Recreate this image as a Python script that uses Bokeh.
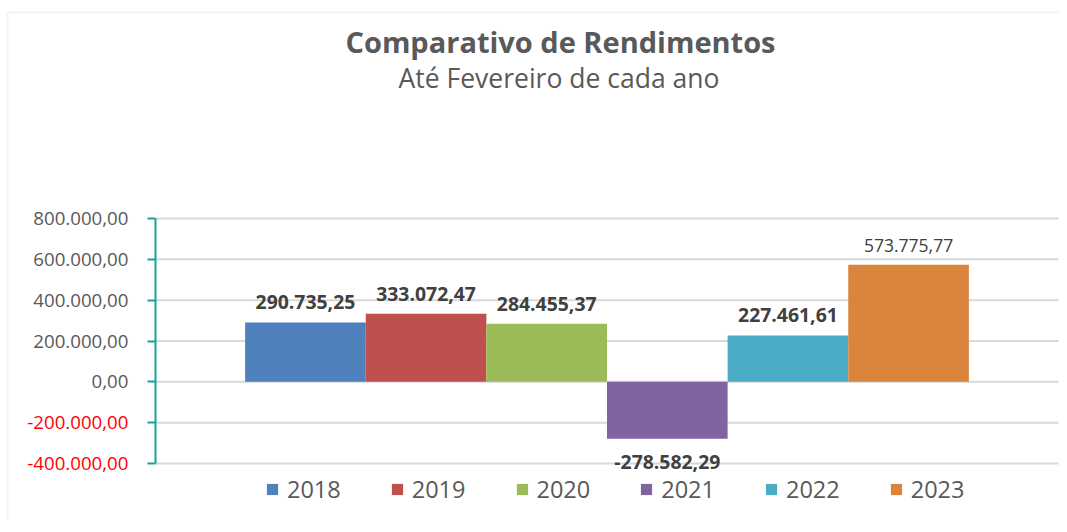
from bokeh.plotting import figure
from bokeh.models import (ColumnDataSource, Range1d, FixedTicker, LabelSet, Label,
                          Legend, LegendItem, BoxAnnotation)
from bokeh.core.properties import field, value
from bokeh.embed import file_html
from bokeh.resources import INLINE

# ---------------- data ----------------
years = ["2018", "2019", "2020", "2021", "2022", "2023"]
values = [290735.25, 333072.47, 284455.37, -278582.29, 227461.61, 573775.77]
y_ticks = [-400000, -200000, 0, 200000, 400000, 600000, 800000]
y_tick_labels = ["-400.000,00", "-200.000,00", "0,00", "200.000,00",
                 "400.000,00", "600.000,00", "800.000,00"]
title_text = "Comparativo de Rendimentos"
subtitle_text = "Até Fevereiro de cada ano"

# ---------------- styles ----------------
colors = ["#4F81BD", "#C0504D", "#9BBB59", "#8064A2", "#4BACC6", "#DB843D"]
label_weights = ["bold", "bold", "bold", "bold", "bold", "normal"]
label_sizes = ["19.4px", "19.4px", "19.4px", "19.4px", "19.4px", "17.5px"]
FONT = "Open Sans"
GRAY = "#595959"
TEAL = "#17A2A2"
GRID = "#D9D9D9"

# canvas layout (pixels inside the figure)
W, H = 1059, 520
PL, PR, PT, PB = 155, 1058, 218, 463   # plot area edges

# data extent of the plot area
pad = 0.743
x_lo, x_hi = -0.5 - pad, len(years) - 0.5 + pad
y_lo, y_hi = min(y_ticks), max(y_ticks)

sx = (x_hi - x_lo) / (PR - PL)
sy = (y_hi - y_lo) / (PB - PT)
x_range = Range1d(x_lo - PL * sx, x_hi + (W - PR) * sx)
y_range = Range1d(y_lo - (H - PB) * sy, y_hi + PT * sy)


def br(v):
    s = f"{v:,.2f}"
    return s.replace(",", "X").replace(".", ",").replace("X", ".")


idx = list(range(len(years)))
src = ColumnDataSource(dict(
    x=idx, year=years, value=values, color=colors,
    label=[br(v) for v in values],
    weight=label_weights, size=label_sizes,
    yoff=[13 if v >= 0 else -30 for v in values],
))

p = figure(width=W, height=H, output_backend="svg", toolbar_location=None,
           x_range=x_range, y_range=y_range, x_axis_location=None,
           min_border=0)
p.title.visible = False
p.outline_line_color = None
p.background_fill_color = "white"
p.border_fill_color = "white"
p.xgrid.visible = False
p.ygrid.visible = False

# horizontal gridlines across the plot area
p.segment(x0=x_lo, x1=x_hi, y0=y_ticks, y1=y_ticks, line_color=GRID, line_width=2)

r = p.vbar(x="x", top="value", bottom=0, width=1.0, fill_color="color",
           line_color=None, source=src)

# y axis drawn at the left edge of the plot area
ax = p.yaxis[0]
ax.fixed_location = x_lo
ax.bounds = (y_lo, y_hi)
ax.ticker = FixedTicker(ticks=y_ticks)
ax.major_label_overrides = {t: (lab if t >= 0 else "") for t, lab in zip(y_ticks, y_tick_labels)}
ax.major_label_text_font = FONT
ax.major_label_text_font_size = "18.7px"
ax.major_label_text_color = GRAY
ax.axis_line_color = TEAL
ax.axis_line_width = 2
ax.major_tick_line_color = TEAL
ax.major_tick_line_width = 2
ax.major_tick_out = 8
ax.major_tick_in = 0
ax.minor_tick_line_color = None
ax.major_label_standoff = 19

neg_src = ColumnDataSource(dict(
    y=[t for t in y_ticks if t < 0],
    text=[lab for t, lab in zip(y_ticks, y_tick_labels) if t < 0],
))
p.add_layout(LabelSet(x=x_lo, y="y", text="text", x_offset=-27,
                      source=neg_src, text_align="right", text_baseline="middle",
                      text_font=value(FONT), text_font_size="18.7px",
                      text_color="#FF0000"))

# data labels
p.add_layout(LabelSet(x="x", y="value", text="label", source=src,
                      y_offset="yoff", text_align="center", text_baseline="alphabetic",
                      text_font=value(FONT), text_font_size="size",
                      text_font_style="weight", text_color="#404040"))

# titles
p.add_layout(Label(x=560, y=41, x_units="canvas", y_units="canvas", text=title_text,
                   text_align="center", text_baseline="alphabetic",
                   text_font=FONT, text_font_size="29px", text_font_style="bold",
                   text_color=GRAY))
p.add_layout(Label(x=558.5, y=77, x_units="canvas", y_units="canvas", text=subtitle_text,
                   text_align="center", text_baseline="alphabetic",
                   text_font=FONT, text_font_size="26.5px",
                   text_color=GRAY))

# outer border (top / left)
p.add_layout(BoxAnnotation(left=7, right=1300, top=12, bottom=1300,
                           left_units="canvas", right_units="canvas",
                           top_units="canvas", bottom_units="canvas",
                           fill_alpha=0, line_color=GRID, line_width=2))

# legend under the plot area
legend = Legend(items=[LegendItem(label=field("year"), renderers=[r])],
                orientation="horizontal", location=(265, 15),
                glyph_width=14, glyph_height=14, label_standoff=8, spacing=49,
                label_text_font=FONT, label_text_font_size="23.5px",
                label_text_color=GRAY, margin=0, padding=0,
                border_line_color=None, background_fill_alpha=0)
p.add_layout(legend, "center")

open("out.html", "w").write(file_html(p, INLINE))
